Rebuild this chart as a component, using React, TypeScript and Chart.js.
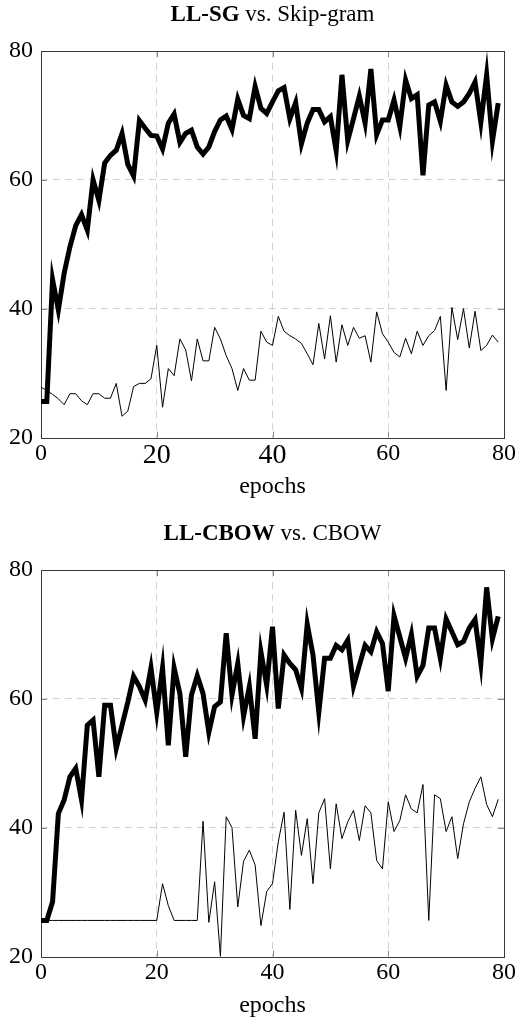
import React, { useEffect, useRef } from "react";
import { Chart, registerables } from "chart.js";

Chart.register(...registerables);

const epochs: number[] = Array.from({ length: 80 }, (_, i) => i);

const xTickValues = [0, 20, 40, 60, 80];
const yTickValues = [20, 40, 60, 80];

// LL-SG (thick) vs. Skip-gram (thin)
const sgLL = [
  25.6, 25.6, 44.5, 39.8, 45.5, 49.6, 52.9, 54.6, 52.2, 60.0,
  56.8, 62.6, 63.8, 64.6, 67.2, 62.4, 60.6, 69.2, 68.0, 66.9,
  66.8, 64.8, 68.8, 70.2, 65.8, 67.2, 67.7, 65.1, 64.0, 65.1,
  67.5, 69.3, 69.9, 67.8, 72.5, 70.0, 69.5, 74.5, 71.1, 70.3,
  72.1, 73.8, 74.3, 69.5, 72.0, 65.6, 68.8, 70.9, 70.9, 69.0,
  69.8, 64.5, 76.3, 66.1, 69.5, 73.0, 68.8, 77.2, 67.0, 69.3,
  69.3, 72.4, 68.3, 75.5, 72.6, 73.2, 60.7, 71.6, 72.1, 69.1,
  74.7, 72.1, 71.4, 72.1, 73.4, 75.2, 68.9, 76.3, 66.0, 71.9,
];
const sgBase = [
  27.8, 27.3, 26.7, 26.0, 25.1, 26.8, 26.8, 25.7, 25.1, 26.8,
  26.8, 26.1, 26.1, 28.4, 23.3, 24.1, 27.9, 28.4, 28.4, 29.1,
  34.3, 24.7, 30.7, 29.6, 35.3, 33.6, 28.8, 35.3, 31.9, 31.9,
  37.1, 35.3, 32.7, 30.7, 27.3, 30.7, 28.9, 28.9, 36.5, 34.8,
  34.3, 38.8, 36.5, 35.8, 35.3, 34.6, 33.0, 31.3, 37.7, 32.2,
  38.9, 31.7, 37.5, 34.3, 37.1, 35.4, 35.8, 31.7, 39.5, 36.1,
  34.8, 33.2, 32.5, 35.4, 33.0, 36.5, 34.3, 35.8, 36.6, 38.8,
  27.3, 40.2, 35.2, 40.0, 33.9, 39.6, 33.5, 34.3, 35.9, 34.8,
];

// LL-CBOW (thick) vs. CBOW (thin)
const cbowLL = [
  25.6, 25.6, 28.5, 42.2, 44.3, 47.9, 49.2, 44.3, 55.9, 56.7,
  47.9, 59.0, 59.0, 52.3, 55.9, 59.5, 63.5, 61.9, 59.8, 64.8,
  57.9, 64.8, 52.8, 64.8, 60.8, 51.0, 60.6, 63.6, 60.8, 54.8,
  58.8, 59.5, 70.2, 60.6, 65.5, 57.3, 61.9, 53.8, 67.3, 62.1,
  71.2, 58.5, 66.8, 65.5, 64.5, 61.6, 71.6, 66.8, 57.9, 66.3,
  66.3, 68.3, 67.6, 69.1, 62.0, 65.2, 68.3, 67.3, 70.4, 68.6,
  61.2, 72.9, 69.6, 66.3, 70.0, 63.5, 65.2, 71.0, 71.0, 66.3,
  72.4, 70.4, 68.4, 68.9, 71.0, 72.3, 65.5, 77.3, 69.3, 72.8,
];
const cbowBase = [
  25.6, 25.6, 25.6, 25.6, 25.6, 25.6, 25.6, 25.6, 25.6, 25.6,
  25.6, 25.6, 25.6, 25.6, 25.6, 25.6, 25.6, 25.6, 25.6, 25.6,
  25.6, 31.3, 27.9, 25.6, 25.6, 25.6, 25.6, 25.6, 41.0, 25.3,
  31.6, 20.0, 41.7, 40.0, 27.7, 34.8, 36.5, 34.2, 24.8, 30.1,
  31.3, 37.8, 42.4, 27.3, 42.7, 35.7, 41.4, 31.3, 42.3, 44.5,
  33.6, 43.7, 38.3, 40.9, 42.7, 38.0, 43.4, 42.3, 34.9, 33.6,
  44.0, 39.4, 41.1, 45.1, 42.9, 42.3, 46.7, 25.6, 45.1, 44.5,
  39.4, 41.7, 35.2, 40.6, 44.0, 46.1, 47.9, 43.6, 41.7, 44.4,
];

const SERIF = '"Liberation Serif", "Times New Roman", Times, serif';

type PanelProps = {
  top: number;
  height: number;
  boldTitle: string;
  restTitle: string;
  ll: number[];
  base: number[];
  bigTicks: number[];
};

const PLOT_TOP = 51;
const PLOT_BOTTOM = 437.5;
const PLOT_LEFT = 41;
const PLOT_RIGHT = 505;

function Panel({ top, height, boldTitle, restTitle, ll, base, bigTicks }: PanelProps) {
  const ref = useRef<HTMLCanvasElement | null>(null);

  useEffect(() => {
    if (!ref.current) return;

    const framePlugin = {
      id: "frame",
      beforeDatasetsDraw(chart: any) {
        const { ctx, chartArea } = chart;
        const { left, right, top: t, bottom } = chartArea;
        const xs = chart.scales.x;
        const ys = chart.scales.y;
        ctx.save();
        ctx.strokeStyle = "#8a8a8a";
        ctx.lineWidth = 1;
        ctx.setLineDash([]);
        const tl = 6;
        for (const v of xTickValues.slice(1, -1)) {
          const px = Math.round(xs.getPixelForValue(v)) + 0.5;
          ctx.beginPath();
          ctx.moveTo(px, t);
          ctx.lineTo(px, t + tl);
          ctx.moveTo(px, bottom);
          ctx.lineTo(px, bottom - tl);
          ctx.stroke();
        }
        for (const v of yTickValues.slice(1, -1)) {
          const py = Math.round(ys.getPixelForValue(v)) + 0.5;
          ctx.beginPath();
          ctx.moveTo(left, py);
          ctx.lineTo(left + tl, py);
          ctx.moveTo(right, py);
          ctx.lineTo(right - tl, py);
          ctx.stroke();
        }
        ctx.strokeStyle = "#3a3a3a";
        ctx.lineWidth = 1;
        ctx.strokeRect(Math.round(left) + 0.5, Math.round(t) + 0.5, Math.round(right - left), Math.round(bottom - t));
        ctx.restore();
      },
      afterDraw(chart: any) {
        const { ctx, chartArea } = chart;
        const cx = (chartArea.left + chartArea.right) / 2;
        ctx.save();
        ctx.fillStyle = "#000";
        ctx.textBaseline = "alphabetic";
        ctx.textAlign = "left";
        ctx.font = `bold 23px ${SERIF}`;
        const wb = ctx.measureText(boldTitle).width;
        ctx.font = `23px ${SERIF}`;
        const wr = ctx.measureText(restTitle).width;
        const x0 = cx - (wb + wr) / 2;
        ctx.font = `bold 23px ${SERIF}`;
        ctx.fillText(boldTitle, x0, 21);
        ctx.font = `23px ${SERIF}`;
        ctx.fillText(restTitle, x0 + wb, 21);
        ctx.restore();
      },
    };

    const gridColor = (lo: number, hi: number) => (c: any) =>
      c.tick && (c.tick.value === lo || c.tick.value === hi) ? "rgba(0,0,0,0)" : "#d2d2d2";

    const chart = new Chart(ref.current, {
      type: "line",
      data: {
        datasets: [
          {
            data: base.map((v, i) => ({ x: epochs[i], y: v })),
            borderColor: "#000",
            borderWidth: 1,
            pointRadius: 0,
            tension: 0,
            borderJoinStyle: "miter",
            fill: false,
          },
          {
            data: ll.map((v, i) => ({ x: epochs[i], y: v })),
            borderColor: "#000",
            borderWidth: 5,
            pointRadius: 0,
            tension: 0,
            borderJoinStyle: "miter",
            borderCapStyle: "butt",
            fill: false,
          },
        ],
      },
      options: {
        responsive: false,
        animation: false,
        devicePixelRatio: 1,
        events: [],
        layout: { padding: { top: PLOT_TOP, left: 0, right: 520 - PLOT_RIGHT, bottom: 0 } },
        plugins: {
          legend: { display: false },
          tooltip: { enabled: false },
          title: { display: false },
        },
        scales: {
          x: {
            type: "linear",
            min: 0,
            max: 80,
            afterFit: (s: any) => {
              s.height = height - PLOT_BOTTOM;
            },
            afterBuildTicks: (s: any) => {
              s.ticks = xTickValues.map((v) => ({ value: v }));
            },
            grid: { color: gridColor(0, 80), drawTicks: false, lineWidth: 1 },
            border: { display: false, dash: [7, 5] },
            ticks: {
              padding: 4,
              maxRotation: 0,
              autoSkip: false,
              color: "#000",
              font: (c: any) => ({
                family: SERIF,
                size: c.tick && bigTicks.includes(c.tick.value) ? 28 : 24,
                lineHeight: 1,
              }),
            },
            title: {
              display: true,
              text: "epochs",
              color: "#000",
              font: { family: SERIF, size: 24, lineHeight: 1 },
              padding: { top: 0, bottom: height - 487 - 12 },
            },
          },
          y: {
            type: "linear",
            min: 20,
            max: 80,
            afterFit: (s: any) => {
              s.width = PLOT_LEFT;
            },
            afterBuildTicks: (s: any) => {
              s.ticks = yTickValues.map((v) => ({ value: v }));
            },
            grid: { color: gridColor(20, 80), drawTicks: false, lineWidth: 1 },
            border: { display: false, dash: [7, 5] },
            ticks: {
              padding: 8,
              color: "#000",
              font: { family: SERIF, size: 24, lineHeight: 1 },
            },
          },
        },
      } as any,
      plugins: [framePlugin],
    });

    return () => chart.destroy();
  }, []);

  return (
    <canvas
      ref={ref}
      width={520}
      height={height}
      style={{ position: "absolute", left: 0, top, width: 520, height, display: "block" }}
    />
  );
}

export default function App() {
  return (
    <div
      style={{
        position: "absolute",
        left: 0,
        top: 0,
        width: 520,
        height: 1021,
        background: "#fff",
        overflow: "hidden",
      }}
    >
      <Panel top={0} height={519} boldTitle="LL-SG" restTitle=" vs. Skip-gram" ll={sgLL} base={sgBase} bigTicks={[20, 40]} />
      <Panel top={519} height={502} boldTitle="LL-CBOW" restTitle=" vs. CBOW" ll={cbowLL} base={cbowBase} bigTicks={[]} />
    </div>
  );
}
